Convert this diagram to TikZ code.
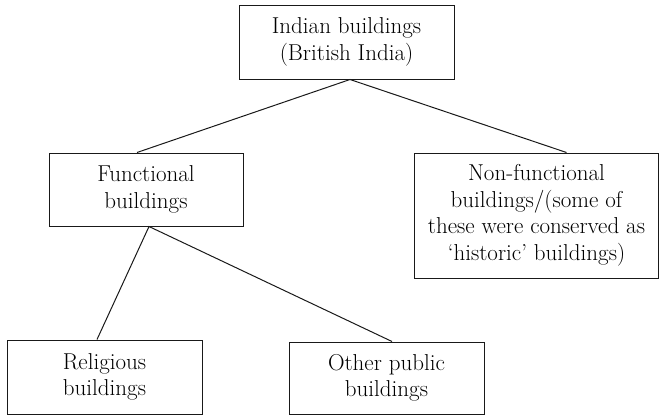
\documentclass[tikz,border=0pt]{standalone}
\begin{document}
\begin{tikzpicture}[x=1pt,y=-1pt,
  box/.style={draw=black!90, line width=1pt, inner sep=0pt, align=center,
    font=\fontsize{23}{26.5}\selectfont},
  link/.style={draw=black!90, line width=1pt}]
\useasboundingbox (0,0) rectangle (660,415);
\node[box, minimum width=215pt, minimum height=74pt] (top) at (346.5,42) {Indian buildings\\(British India)};
\node[box, minimum width=194pt, minimum height=73pt] (func) at (146,189.5) {Functional\\buildings};
\node[box, minimum width=244pt, minimum height=125pt] (nonfunc) at (536.5,215.5) {Non-functional\\buildings/(some of\\these were conserved as\\`historic' buildings)};
\node[box, minimum width=195pt, minimum height=74pt] (relig) at (104.5,377) {Religious\\buildings};
\node[box, minimum width=195pt, minimum height=72pt] (other) at (386.5,378) {Other public\\buildings};
\coordinate (apex) at ([xshift=3.5pt]top.south);
\coordinate (fork) at ([xshift=3pt]func.south);
\draw[link] ([xshift=-9pt]func.north) -- (apex) -- ([xshift=30pt]nonfunc.north);
\draw[link] ([xshift=-7.5pt]relig.north) -- (fork) -- ([xshift=5.5pt]other.north);
\end{tikzpicture}
\end{document}
